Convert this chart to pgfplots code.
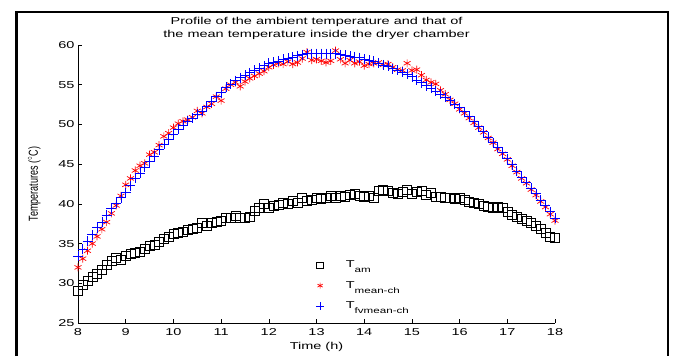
\documentclass[border=0pt]{standalone}
\usepackage{pgfplots}
\pgfplotsset{compat=1.18}
\usepackage{pgfplotstable}
\usepackage{graphicx}
\usepackage{fontspec}
\setmainfont{Liberation Sans}
\newcommand\hs[1]{\scalebox{1.45}[1]{#1}}
\newcommand\sub[1]{\raisebox{-0.9ex}{\hs{\fontsize{8}{9}\selectfont #1}}}

\pgfplotstableread{
t v
8.0 29.1
8.1 29.8
8.2 30.3
8.3 30.8
8.4 31.2
8.5 31.7
8.6 32.3
8.7 32.8
8.8 33.2
8.9 33.0
9.0 33.4
9.1 33.7
9.2 33.9
9.3 34.0
9.4 34.3
9.5 34.7
9.6 34.9
9.7 35.2
9.8 35.6
9.9 35.8
10.0 36.2
10.1 36.4
10.2 36.5
10.3 36.7
10.4 36.8
10.5 37.0
10.6 37.6
10.7 37.3
10.8 37.6
10.9 37.7
11.0 37.9
11.1 38.3
11.2 38.3
11.3 38.5
11.4 38.2
11.5 38.3
11.6 38.4
11.7 39.1
11.8 39.5
11.9 40.0
12.0 39.5
12.1 39.7
12.2 39.9
12.3 40.1
12.4 40.0
12.5 40.4
12.6 40.1
12.7 40.7
12.8 40.4
12.9 40.5
13.0 40.7
13.1 40.6
13.2 40.7
13.3 41.0
13.4 40.7
13.5 41.0
13.6 40.9
13.7 41.1
13.8 41.3
13.9 41.0
14.0 40.9
14.1 41.0
14.2 40.8
14.3 41.6
14.4 41.8
14.5 41.6
14.6 41.4
14.7 41.3
14.8 41.5
14.9 41.8
15.0 41.3
15.1 41.5
15.2 41.7
15.3 41.1
15.4 41.4
15.5 40.9
15.6 40.9
15.7 40.8
15.8 40.7
15.9 40.6
16.0 40.7
16.1 40.5
16.2 40.3
16.3 40.1
16.4 40.0
16.5 39.7
16.6 39.6
16.7 39.5
16.8 39.6
16.9 39.5
17.0 39.0
17.1 38.6
17.2 38.4
17.3 38.1
17.4 37.9
17.5 37.6
17.6 37.3
17.7 36.8
17.8 36.3
17.9 35.9
18.0 35.7
}\tam

\pgfplotstableread{
t v
8.0 32.0
8.1 33.1
8.2 34.1
8.3 35.0
8.4 35.9
8.5 36.8
8.6 37.7
8.7 38.8
8.8 39.8
8.9 41.0
9.0 42.4
9.1 43.2
9.2 44.2
9.3 44.8
9.4 45.1
9.5 46.2
9.6 46.5
9.7 47.4
9.8 48.5
9.9 48.9
10.0 49.6
10.1 50.1
10.2 50.4
10.3 50.6
10.4 50.9
10.5 51.7
10.6 51.4
10.7 52.2
10.8 52.6
10.9 53.5
11.0 53.0
11.1 54.5
11.2 55.0
11.3 55.3
11.4 54.8
11.5 55.4
11.6 55.8
11.7 56.1
11.8 56.4
11.9 56.7
12.0 57.2
12.1 57.5
12.2 57.7
12.3 57.6
12.4 57.9
12.5 57.6
12.6 57.8
12.7 58.3
12.8 59.1
12.9 58.1
13.0 58.2
13.1 58.0
13.2 57.8
13.3 58.0
13.4 59.3
13.5 58.2
13.6 57.7
13.7 58.1
13.8 57.7
13.9 57.9
14.0 57.4
14.1 57.6
14.2 57.7
14.3 57.8
14.4 57.5
14.5 57.6
14.6 57.2
14.7 56.9
14.8 56.8
14.9 57.7
15.0 56.8
15.1 56.9
15.2 56.2
15.3 55.6
15.4 55.3
15.5 55.1
15.6 54.3
15.7 53.8
15.8 53.1
15.9 52.6
16.0 51.9
16.1 51.4
16.2 50.8
16.3 50.2
16.4 49.6
16.5 49.0
16.6 48.3
16.7 47.7
16.8 46.9
16.9 46.3
17.0 45.6
17.1 44.8
17.2 44.0
17.3 43.2
17.4 42.6
17.5 41.8
17.6 41.1
17.7 40.3
17.8 39.6
17.9 38.7
18.0 37.9
}\tmean

\pgfplotstableread{
t v
8.0 33.4
8.1 34.3
8.2 35.3
8.3 36.1
8.4 37.0
8.5 37.7
8.6 38.6
8.7 39.4
8.8 40.1
8.9 40.8
9.0 41.4
9.1 42.3
9.2 43.2
9.3 43.9
9.4 44.6
9.5 45.3
9.6 46.0
9.7 46.8
9.8 47.5
9.9 48.1
10.0 48.7
10.1 49.4
10.2 49.9
10.3 50.4
10.4 50.8
10.5 51.3
10.6 51.7
10.7 52.3
10.8 52.9
10.9 53.5
11.0 54.0
11.1 54.7
11.2 55.1
11.3 55.5
11.4 55.9
11.5 56.2
11.6 56.5
11.7 56.8
11.8 57.1
11.9 57.4
12.0 57.7
12.1 57.85
12.2 58.0
12.3 58.2
12.4 58.35
12.5 58.5
12.6 58.65
12.7 58.8
12.8 58.9
12.9 58.9
13.0 58.9
13.1 58.9
13.2 58.9
13.3 58.9
13.4 58.9
13.5 58.8
13.6 58.7
13.7 58.6
13.8 58.5
13.9 58.4
14.0 58.25
14.1 58.1
14.2 57.95
14.3 57.75
14.4 57.5
14.5 57.3
14.6 57.0
14.7 56.8
14.8 56.55
14.9 56.3
15.0 56.0
15.1 55.6
15.2 55.25
15.3 54.9
15.4 54.55
15.5 54.2
15.6 53.8
15.7 53.4
15.8 53.0
15.9 52.55
16.0 52.1
16.1 51.6
16.2 51.0
16.3 50.4
16.4 49.8
16.5 49.1
16.6 48.4
16.7 47.7
16.8 47.1
16.9 46.45
17.0 45.7
17.1 44.95
17.2 44.15
17.3 43.35
17.4 42.7
17.5 42.0
17.6 41.3
17.7 40.5
17.8 39.8
17.9 39.0
18.0 38.2
}\tfv

\begin{document}
\begin{tikzpicture}
\useasboundingbox (0pt,0pt) rectangle (676pt,356pt);
\draw[line width=2.5pt] (16.5pt,0pt) -- (16.5pt,344pt) -- (668pt,344pt) -- (668pt,0pt);
\begin{axis}[
  at={(78pt,33pt)}, anchor=south west,
  scale only axis, width=477pt, height=278pt,
  xmin=8, xmax=18, ymin=25, ymax=60,
  xtick={8,...,18}, ytick={25,30,...,60},
  axis lines=left, axis line style={-, line width=0.8pt},
  tick align=inside, major tick length=4pt,
  tick style={black, line width=0.6pt},
  /pgf/number format/assume math mode=true,
  tick label style={font=\fontsize{10}{12}\selectfont},
  xticklabel={\hs{\pgfmathprintnumber{\tick}}},
  yticklabel={\hs{\pgfmathprintnumber{\tick}}},
  xticklabel style={yshift=-2pt},
  xlabel={\hs{Time (h)}}, xlabel style={font=\fontsize{10}{12}\selectfont, yshift=0pt},
  ylabel={\scalebox{1}[1.45]{Temperatures ($^\circ$C)}}, ylabel style={font=\fontsize{9}{10}\selectfont, yshift=11pt},
  title={\hs{Profile of the ambient temperature and that of}\\\hs{the mean temperature inside the dryer chamber}},
  title style={font=\fontsize{10}{13}\selectfont, align=center, yshift=-4pt},
  legend style={draw=none, fill=none, at={(0.493,0.238)}, anchor=north west,
    font=\fontsize{10}{12}\selectfont, row sep=8pt},
  legend image post style={scale=0.75},
  legend cell align=left,
  clip=false,
]
\addplot[only marks, mark=square, mark size=4.5pt, black, line width=0.6pt] table {\tam};
\addlegendentry{\hspace{20pt}\hs{T}\sub{am}}
\addplot[only marks, mark=asterisk, mark size=4pt, red, line width=0.7pt] table {\tmean};
\addlegendentry{\hspace{20pt}\hs{T}\sub{mean-ch}}
\addplot[only marks, mark=+, mark size=5pt, blue, line width=0.7pt] table {\tfv};
\addlegendentry{\hspace{20pt}\hs{T}\sub{fvmean-ch}}
\end{axis}
\end{tikzpicture}
\end{document}
